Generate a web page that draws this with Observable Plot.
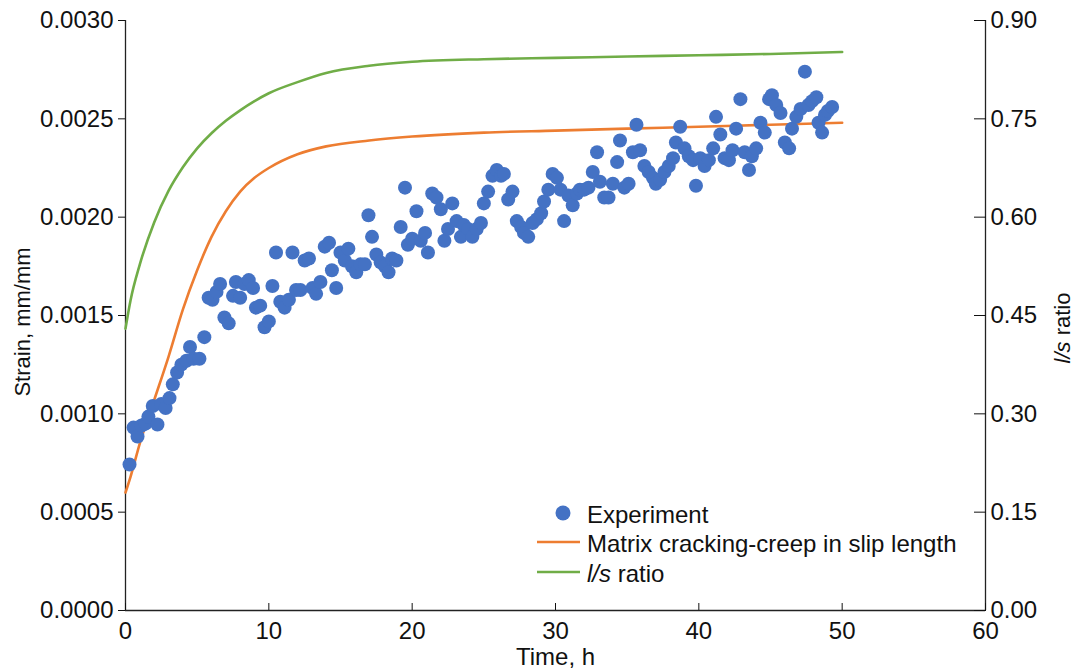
<!DOCTYPE html>
<html>
<head>
<meta charset="utf-8">
<script src="https://cdn.jsdelivr.net/npm/d3@7"></script>
<script src="https://cdn.jsdelivr.net/npm/@observablehq/plot@0.6"></script>
<style>
  body { margin: 0; background: #fff; }
  #chart svg { display: block; }
</style>
</head>
<body>
<div id="chart"></div>
<script>
// Measured creep strain (time in h, strain in mm/mm)
const expTime = [
  0.28, 0.56, 0.84, 1.12, 1.4, 1.6, 1.9, 2.23, 2.5, 2.8, 3.07, 3.3, 3.6, 3.9, 4.25, 4.5, 4.75, 5.16, 5.5, 5.8,
  6.07, 6.35, 6.6, 6.9, 7.2, 7.5, 7.7, 8.0, 8.3, 8.6, 8.9, 9.1, 9.4, 9.7, 10.0, 10.25, 10.5, 10.8, 11.1, 11.4,
  11.65, 11.9, 12.2, 12.5, 12.8, 13.05, 13.3, 13.6, 13.9, 14.2, 14.4, 14.7, 15.0, 15.3, 15.55, 15.8, 16.1, 16.4, 16.7, 16.95,
  17.2, 17.5, 17.8, 18.1, 18.35, 18.6, 18.9, 19.2, 19.5, 19.7, 20.0, 20.3, 20.6, 20.9, 21.1, 21.4, 21.7, 22.0, 22.25, 22.5,
  22.8, 23.1, 23.4, 23.6, 23.9, 24.2, 24.5, 24.8, 25.0, 25.3, 25.6, 25.9, 26.2, 26.4, 26.7, 27.0, 27.3, 27.6, 27.8, 28.1,
  28.4, 28.7, 29.0, 29.2, 29.5, 29.8, 30.1, 30.35, 30.6, 30.9, 31.2, 31.5, 31.7, 32.0, 32.3, 32.6, 32.9, 33.1, 33.4, 33.7,
  34.0, 34.3, 34.5, 34.8, 35.1, 35.4, 35.65, 35.9, 36.2, 36.5, 36.8, 37.0, 37.3, 37.6, 37.9, 38.2, 38.4, 38.7, 39.0, 39.3,
  39.6, 39.8, 40.1, 40.4, 40.7, 41.0, 41.2, 41.5, 41.8, 42.1, 42.35, 42.6, 42.9, 43.2, 43.5, 43.7, 44.0, 44.3, 44.6, 44.9,
  45.1, 45.4, 45.7, 46.0, 46.3, 46.5, 46.8, 47.1, 47.4, 47.65, 47.9, 48.2, 48.35, 48.6, 48.8, 49.0, 49.3
];
const expStrain = [
  0.000742, 0.00093, 0.000885, 0.000941, 0.00095, 0.000986, 0.00104, 0.000946, 0.00105, 0.00103, 0.00108, 0.00115, 0.00121, 0.00125, 0.00127, 0.00134, 0.00128, 0.00128, 0.00139, 0.00159,
  0.00158, 0.00162, 0.00166, 0.00149, 0.00146, 0.00160, 0.00167, 0.00159, 0.00166, 0.00168, 0.00164, 0.00154, 0.00155, 0.00144, 0.00147, 0.00165, 0.00182, 0.00157, 0.00154, 0.00158,
  0.00182, 0.00163, 0.00163, 0.00178, 0.00179, 0.00164, 0.00161, 0.00167, 0.00185, 0.00187, 0.00173, 0.00164, 0.00182, 0.00178, 0.00184, 0.00175, 0.00172, 0.00176, 0.00176, 0.00201,
  0.00190, 0.00181, 0.00177, 0.00175, 0.00172, 0.00179, 0.00178, 0.00195, 0.00215, 0.00186, 0.00189, 0.00203, 0.00188, 0.00192, 0.00182, 0.00212, 0.00210, 0.00204, 0.00188, 0.00194,
  0.00207, 0.00198, 0.00190, 0.00196, 0.00194, 0.00190, 0.00194, 0.00197, 0.00207, 0.00213, 0.00221, 0.00224, 0.00221, 0.00222, 0.00209, 0.00213, 0.00198, 0.00195, 0.00192, 0.00190,
  0.00197, 0.00199, 0.00202, 0.00208, 0.00214, 0.00222, 0.00220, 0.00214, 0.00198, 0.00211, 0.00206, 0.00212, 0.00214, 0.00214, 0.00215, 0.00223, 0.00233, 0.00218, 0.00210, 0.00210,
  0.00217, 0.00228, 0.00239, 0.00215, 0.00217, 0.00233, 0.00247, 0.00234, 0.00226, 0.00223, 0.00220, 0.00217, 0.00219, 0.00223, 0.00226, 0.00230, 0.00238, 0.00246, 0.00235, 0.00231,
  0.00229, 0.00216, 0.00230, 0.00226, 0.00229, 0.00235, 0.00251, 0.00242, 0.00230, 0.00229, 0.00234, 0.00245, 0.00260, 0.00233, 0.00224, 0.00231, 0.00235, 0.00248, 0.00243, 0.00260,
  0.00262, 0.00257, 0.00253, 0.00238, 0.00235, 0.00245, 0.00251, 0.00255, 0.00274, 0.00257, 0.00259, 0.00261, 0.00248, 0.00243, 0.00252, 0.00254, 0.00256
];

// Model: matrix cracking with creep in the slip length
const modelTime = [0, 0.35, 1, 2, 3, 4, 5, 6, 7, 8, 9, 10, 12, 14, 17, 20, 25, 30, 35, 40, 45, 50];
const modelStrain = [0.00060, 0.00068, 0.00085, 0.00107, 0.00129, 0.00153, 0.00173, 0.00190, 0.00203, 0.00213, 0.00220, 0.00225,
  0.00232, 0.00236, 0.00239, 0.00241, 0.00243, 0.00244, 0.00245, 0.00246, 0.00247, 0.00248];

// Slip-length to spacing ratio l/s (right axis)
const ratioTime = [0, 0.35, 1, 2, 3, 4, 5, 6, 7, 8, 9, 10, 12, 14, 17, 20, 25, 30, 35, 40, 45, 50];
const ratioValue = [0.43, 0.473, 0.528, 0.592, 0.64, 0.676, 0.705, 0.728, 0.747, 0.763, 0.777, 0.789,
  0.806, 0.82, 0.831, 0.837, 0.841, 0.843, 0.845, 0.847, 0.849, 0.852];

// Axis ticks
const timeTicks = [0, 10, 20, 30, 40, 50, 60];
const strainTicks = [0, 0.0005, 0.0010, 0.0015, 0.0020, 0.0025, 0.0030];
const ratioTicks = [0, 0.15, 0.30, 0.45, 0.60, 0.75, 0.90];

// The right axis shares the y scale: 0.90 of l/s sits level with 0.0030 strain
const RATIO_PER_STRAIN = 300;

const expRows = expTime.map((t, i) => ({time: t, strain: expStrain[i]}));
const modelRows = modelTime.map((t, i) => ({time: t, strain: modelStrain[i]}));
const ratioRows = ratioTime.map((t, i) => ({time: t, ratio: ratioValue[i]}));

const BLUE = "#4472C4", ORANGE = "#ED7D31", GREEN = "#70AD47";
const FONT = "'Liberation Sans', Arial, Helvetica, sans-serif";
const INK = "#111";

const plot = Plot.plot({
  width: 1075,
  height: 668,
  marginLeft: 125,
  marginRight: 90,
  marginTop: 20,
  marginBottom: 58,
  style: {fontFamily: FONT, fontSize: "24px", color: INK, background: "#fff"},
  x: {domain: [0, 60]},
  y: {domain: [0, 0.003]},
  marks: [
    Plot.ruleY([0], {stroke: "#222", strokeWidth: 1.3}),
    Plot.ruleX([0, 60], {stroke: "#222", strokeWidth: 1.3}),
    Plot.axisX({
      ticks: timeTicks, tickSize: -7, tickPadding: 18, tickFormat: d3.format("d"),
      label: "Time, h", labelAnchor: "center", labelArrow: "none", labelOffset: 54
    }),
    Plot.axisY({
      ticks: strainTicks, tickSize: 7, tickPadding: 5, tickFormat: d3.format(".4f"),
      label: null
    }),
    Plot.axisY({
      anchor: "right",
      ticks: ratioTicks.map(r => r / RATIO_PER_STRAIN),
      tickFormat: d => (d * RATIO_PER_STRAIN).toFixed(2),
      tickSize: -12, tickPadding: 17, label: null
    }),
    Plot.line(modelRows, {x: "time", y: "strain", stroke: ORANGE, strokeWidth: 2.6, curve: "monotone-x"}),
    Plot.line(ratioRows, {x: "time", y: d => d.ratio / RATIO_PER_STRAIN, stroke: GREEN, strokeWidth: 2.6, curve: "monotone-x"}),
    Plot.dot(expRows, {x: "time", y: "strain", r: 7, fill: BLUE, stroke: "none"})
  ]
});

document.getElementById("chart").appendChild(plot);

// Vertical axis titles (the right one with an italic l/s) and the in-plot legend
const svg = d3.select(plot);

svg.append("text")
  .attr("transform", "translate(22,322) rotate(-90)")
  .attr("text-anchor", "middle")
  .attr("dominant-baseline", "central")
  .attr("font-family", FONT)
  .attr("font-size", 22)
  .attr("fill", INK)
  .text("Strain, mm/mm");

const rightTitle = svg.append("text")
  .attr("transform", "translate(1062,328) rotate(-90)")
  .attr("text-anchor", "middle")
  .attr("dominant-baseline", "central")
  .attr("font-family", FONT)
  .attr("font-size", 22)
  .attr("fill", INK);
rightTitle.append("tspan").attr("font-style", "italic").text("l/s");
rightTitle.append("tspan").text(" ratio");

const legend = svg.append("g")
  .attr("font-family", FONT)
  .attr("font-size", 24)
  .attr("text-anchor", "start")
  .attr("fill", INK);

legend.append("circle").attr("cx", 563).attr("cy", 513).attr("r", 7.5).attr("fill", BLUE);
legend.append("text").attr("x", 587).attr("y", 514).attr("dominant-baseline", "central").text("Experiment");

legend.append("line").attr("x1", 537).attr("x2", 580).attr("y1", 542).attr("y2", 542)
  .attr("stroke", ORANGE).attr("stroke-width", 2.6);
legend.append("text").attr("x", 587).attr("y", 543).attr("dominant-baseline", "central")
  .text("Matrix cracking-creep in slip length");

legend.append("line").attr("x1", 537).attr("x2", 580).attr("y1", 572).attr("y2", 572)
  .attr("stroke", GREEN).attr("stroke-width", 2.6);
const ratioLabel = legend.append("text").attr("x", 587).attr("y", 573).attr("dominant-baseline", "central");
ratioLabel.append("tspan").attr("font-style", "italic").text("l/s");
ratioLabel.append("tspan").text(" ratio");
</script>
</body>
</html>
